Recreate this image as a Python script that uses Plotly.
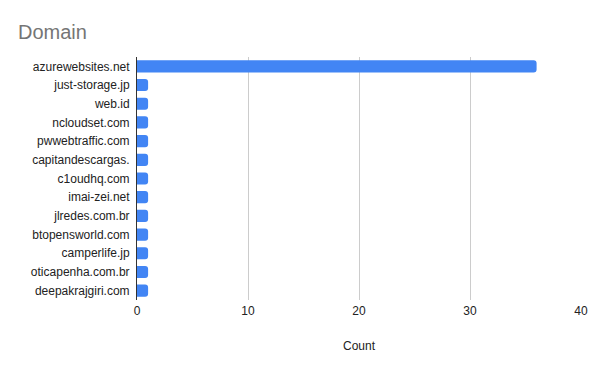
import plotly.graph_objects as go

domains = ["azurewebsites.net", "just-storage.jp", "web.id", "ncloudset.com",
           "pwwebtraffic.com", "capitandescargas.", "c1oudhq.com", "imai-zei.net",
           "jlredes.com.br", "btopensworld.com", "camperlife.jp", "oticapenha.com.br",
           "deepakrajgiri.com"]
counts = [36, 1, 1, 1, 1, 1, 1, 1, 1, 1, 1, 1, 1]
x_ticks = [0, 10, 20, 30, 40]

fig = go.Figure(go.Bar(
    x=counts, y=domains, orientation="h",
    marker=dict(color="#4285F4", cornerradius=3, line=dict(width=0)),
    width=0.65,
))

font = "Arial, Liberation Sans, sans-serif"
fig.update_layout(
    width=600, height=371,
    margin=dict(l=137, r=19, t=57, b=71),
    paper_bgcolor="white", plot_bgcolor="white",
    title=dict(text="Domain", x=18/600, xanchor="left", y=1-32/371, yanchor="middle",
               font=dict(family=font, size=20, color="#757575")),
    font=dict(family=font, size=12, color="#222222"),
    showlegend=False,
    xaxis=dict(range=[0, 40], tickvals=x_ticks, showgrid=True, gridcolor="#cccccc",
               gridwidth=1, zeroline=False, showline=False,
               ticks="", ticklabelstandoff=2, tickfont=dict(size=12, color="#222222"),
               title=dict(text="Count", font=dict(size=12, color="#222222"), standoff=24)),
    yaxis=dict(autorange="reversed", showgrid=False, zeroline=False,
               showline=True, linecolor="#333333", linewidth=1,
               ticks="", ticklabelstandoff=4,
               tickfont=dict(size=12, color="#222222")),
)

fig.write_html("out.html")
